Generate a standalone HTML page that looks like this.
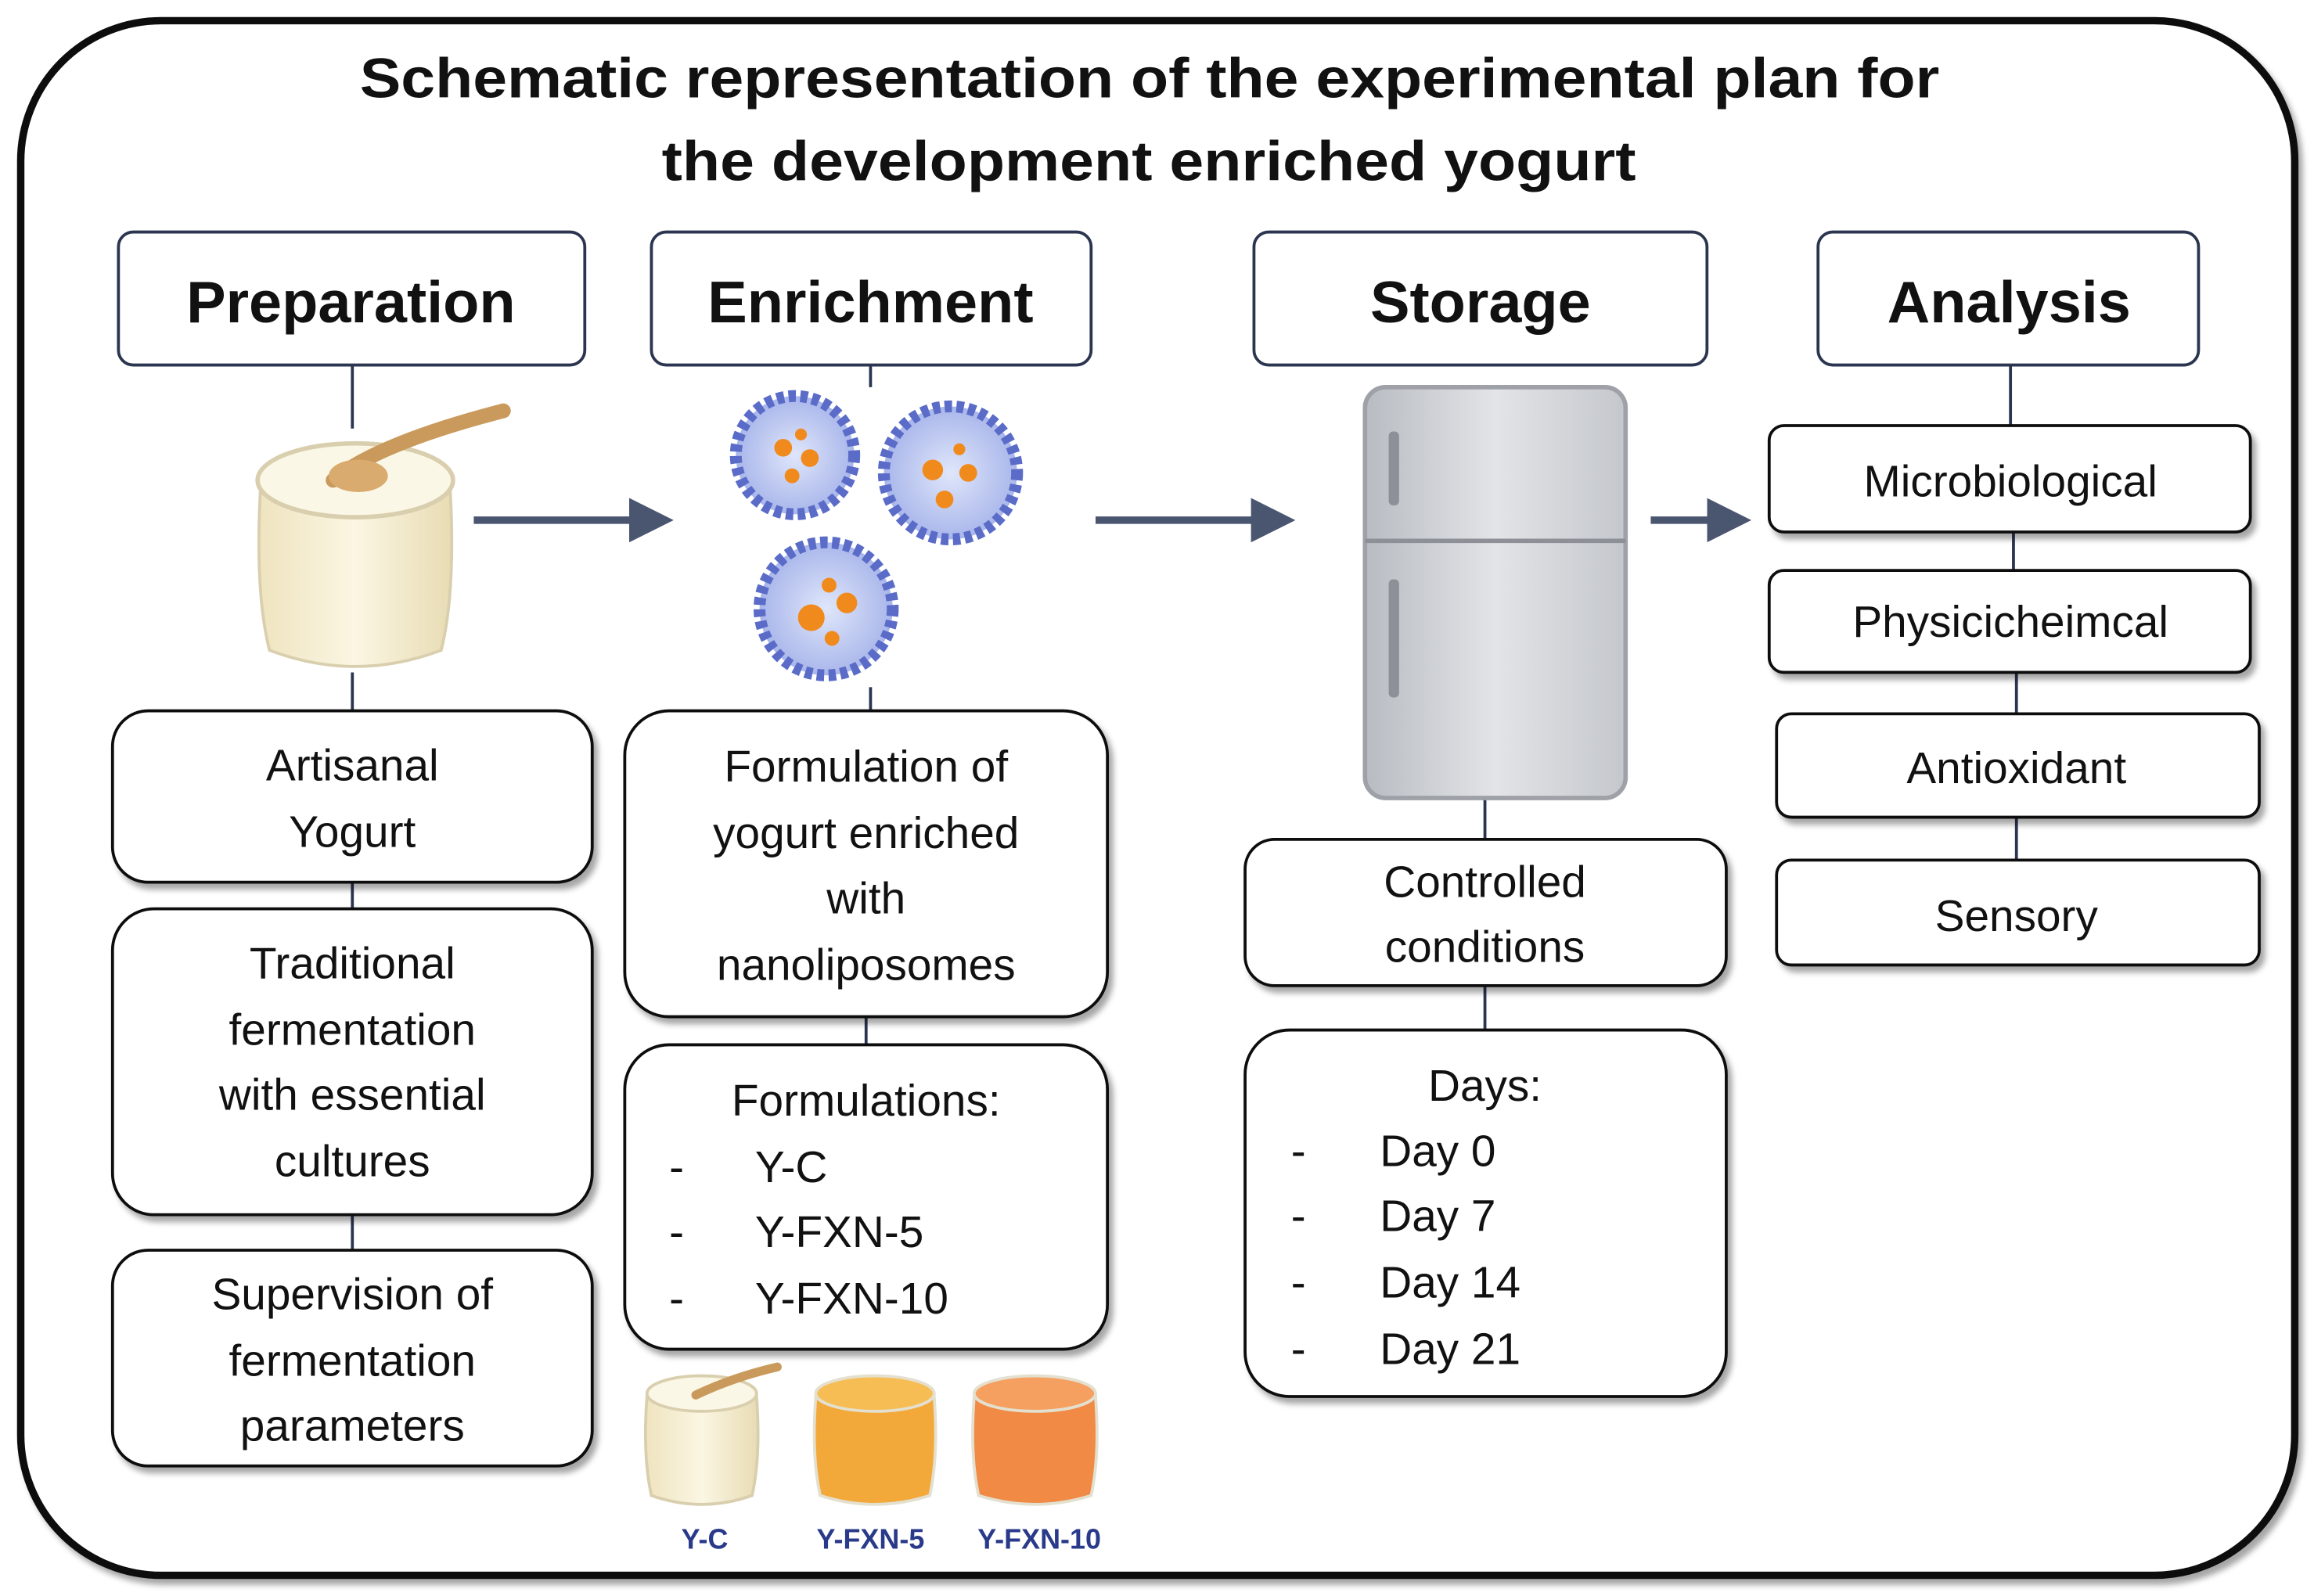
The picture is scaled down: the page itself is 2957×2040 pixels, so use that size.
<!DOCTYPE html>
<html><head><meta charset="utf-8">
<style>
html,body{margin:0;padding:0;background:#fff;}
svg{display:block;}
text{font-family:"Liberation Sans",sans-serif;}
</style></head>
<body>
<svg width="2957" height="2040" viewBox="0 0 1563 1080" preserveAspectRatio="none" xmlns="http://www.w3.org/2000/svg">
<defs>
<filter id="sh" x="-10%" y="-10%" width="130%" height="130%"><feDropShadow dx="3" dy="4" stdDeviation="2" flood-color="#000" flood-opacity="0.35"/></filter>
<marker id="ar" markerWidth="6" markerHeight="6" refX="3" refY="3" orient="auto" markerUnits="strokeWidth"><path d="M0,0 L6,3 L0,6 Z" fill="#4a5570"/></marker>
<radialGradient id="lip" cx="50%" cy="50%" r="50%"><stop offset="0" stop-color="#dfe6fb"/><stop offset="1" stop-color="#a9b6ea"/></radialGradient>
<linearGradient id="fr" x1="0" x2="1"><stop offset="0" stop-color="#b8bcc2"/><stop offset="0.5" stop-color="#e2e4e7"/><stop offset="1" stop-color="#c4c7cc"/></linearGradient>
<linearGradient id="jar" x1="0" x2="1"><stop offset="0" stop-color="#efe4bf"/><stop offset="0.5" stop-color="#fbf6e3"/><stop offset="1" stop-color="#e8dcb4"/></linearGradient>
</defs>

<rect x="14" y="14" width="1536" height="1052" rx="95" fill="#fff" stroke="#111" stroke-width="5" filter="url(#sh)"/>

<text x="243" y="66" font-size="38" font-weight="bold" fill="#111" textLength="1067" lengthAdjust="spacingAndGlyphs">Schematic representation of the experimental plan for</text>
<text x="447" y="122" font-size="38" font-weight="bold" fill="#111" textLength="658" lengthAdjust="spacingAndGlyphs">the development enriched yogurt</text>

<g stroke="#2b3550" stroke-width="2" fill="#fff">
<rect x="80" y="157" width="315" height="90" rx="10"/>
<rect x="440" y="157" width="297" height="90" rx="10"/>
<rect x="847" y="157" width="306" height="90" rx="10"/>
<rect x="1228" y="157" width="257" height="90" rx="10"/>
</g>
<g font-size="40" font-weight="bold" text-anchor="middle" fill="#111">
<text x="237" y="218">Preparation</text>
<text x="588" y="218">Enrichment</text>
<text x="1000" y="218">Storage</text>
<text x="1357" y="218">Analysis</text>
</g>

<g stroke="#2b3550" stroke-width="2">
<line x1="238" y1="247" x2="238" y2="290"/>
<line x1="238" y1="455" x2="238" y2="481"/>
<line x1="238" y1="597" x2="238" y2="615"/>
<line x1="238" y1="822" x2="238" y2="846"/>
<line x1="588" y1="247" x2="588" y2="262"/>
<line x1="588" y1="465" x2="588" y2="481"/>
<line x1="585" y1="688" x2="585" y2="707"/>
<line x1="1003" y1="540" x2="1003" y2="568"/>
<line x1="1003" y1="667" x2="1003" y2="697"/>
<line x1="1358" y1="247" x2="1358" y2="288"/>
<line x1="1360" y1="360" x2="1360" y2="386"/>
<line x1="1362" y1="455" x2="1362" y2="483"/>
<line x1="1362" y1="553" x2="1362" y2="582"/>
</g>

<g stroke="#4a5570" stroke-width="5" marker-end="url(#ar)">
<line x1="320" y1="352" x2="440" y2="352"/>
<line x1="740" y1="352" x2="860" y2="352"/>
<line x1="1115" y1="352" x2="1168" y2="352"/>
</g>

<g>
<path d="M176,330 Q172,400 182,440 Q240,462 298,440 Q308,400 304,330 Z" fill="url(#jar)" stroke="#d9cfae" stroke-width="2"/>
<ellipse cx="240" cy="325" rx="66" ry="25" fill="#fbf7e6" stroke="#d9cfae" stroke-width="3"/>
<path d="M225,325 Q255,300 340,278" stroke="#c99a5c" stroke-width="10" stroke-linecap="round" fill="none"/>
<ellipse cx="242" cy="322" rx="20" ry="11" fill="#d9ab6e"/>
</g>

<g>
<g transform="translate(537,308)">
<circle r="40" fill="url(#lip)" stroke="#5a6cc8" stroke-width="8" stroke-dasharray="5 3"/>
<circle cx="-8" cy="-5" r="6" fill="#f08a1c"/><circle cx="10" cy="2" r="6" fill="#f08a1c"/><circle cx="-2" cy="14" r="5" fill="#f08a1c"/><circle cx="4" cy="-14" r="4" fill="#f08a1c"/>
</g>
<g transform="translate(642,320)">
<circle r="45" fill="url(#lip)" stroke="#5a6cc8" stroke-width="8" stroke-dasharray="5 3"/>
<circle cx="-12" cy="-2" r="7" fill="#f08a1c"/><circle cx="12" cy="0" r="6" fill="#f08a1c"/><circle cx="-4" cy="18" r="6" fill="#f08a1c"/><circle cx="6" cy="-16" r="4" fill="#f08a1c"/>
</g>
<g transform="translate(558,412)">
<circle r="45" fill="url(#lip)" stroke="#5a6cc8" stroke-width="8" stroke-dasharray="5 3"/>
<circle cx="-10" cy="6" r="9" fill="#f08a1c"/><circle cx="14" cy="-4" r="7" fill="#f08a1c"/><circle cx="4" cy="20" r="5" fill="#f08a1c"/><circle cx="2" cy="-16" r="5" fill="#f08a1c"/>
</g>
</g>

<g>
<rect x="922" y="262" width="176" height="278" rx="14" fill="url(#fr)" stroke="#9ea2a8" stroke-width="3"/>
<line x1="922" y1="366" x2="1098" y2="366" stroke="#8d9197" stroke-width="3"/>
<rect x="938" y="292" width="7" height="50" rx="3" fill="#8d9197"/>
<rect x="938" y="392" width="7" height="80" rx="3" fill="#8d9197"/>
</g>

<g stroke="#111" stroke-width="2" fill="#fff" filter="url(#sh)">
<rect x="76" y="481" width="324" height="116" rx="24"/>
<rect x="76" y="615" width="324" height="207" rx="28"/>
<rect x="76" y="846" width="324" height="146" rx="24"/>
<rect x="422" y="481" width="326" height="207" rx="30"/>
<rect x="422" y="707" width="326" height="206" rx="30"/>
<rect x="841" y="568" width="325" height="99" rx="20"/>
<rect x="841" y="697" width="325" height="248" rx="30"/>
<rect x="1195" y="288" width="325" height="72" rx="10"/>
<rect x="1195" y="386" width="325" height="69" rx="10"/>
<rect x="1200" y="483" width="326" height="70" rx="10"/>
<rect x="1200" y="582" width="326" height="71" rx="10"/>
</g>

<g font-size="30" fill="#111" text-anchor="middle">
<text x="238" y="528">Artisanal</text>
<text x="238" y="573">Yogurt</text>
<text x="238" y="662">Traditional</text>
<text x="238" y="707">fermentation</text>
<text x="238" y="751">with essential</text>
<text x="238" y="796">cultures</text>
<text x="238" y="886">Supervision of</text>
<text x="238" y="931">fermentation</text>
<text x="238" y="975">parameters</text>
<text x="585" y="529">Formulation of</text>
<text x="585" y="574">yogurt enriched</text>
<text x="585" y="618">with</text>
<text x="585" y="663">nanoliposomes</text>
<text x="585" y="755">Formulations:</text>
<text x="1003" y="607">Controlled</text>
<text x="1003" y="651">conditions</text>
<text x="1003" y="745">Days:</text>
<text x="1358" y="336">Microbiological</text>
<text x="1358" y="431">Physicicheimcal</text>
<text x="1362" y="530">Antioxidant</text>
<text x="1362" y="630">Sensory</text>
</g>
<g font-size="30" fill="#111">
<text x="452" y="800">-</text><text x="510" y="800">Y-C</text>
<text x="452" y="844">-</text><text x="510" y="844">Y-FXN-5</text>
<text x="452" y="889">-</text><text x="510" y="889">Y-FXN-10</text>
<text x="872" y="789">-</text><text x="932" y="789">Day 0</text>
<text x="872" y="833">-</text><text x="932" y="833">Day 7</text>
<text x="872" y="878">-</text><text x="932" y="878">Day 14</text>
<text x="872" y="923">-</text><text x="932" y="923">Day 21</text>
</g>

<g>
<path d="M437,945 Q434,985 440,1012 Q474,1024 508,1012 Q514,985 511,945 Z" fill="url(#jar)" stroke="#d9cfae" stroke-width="2"/>
<ellipse cx="474" cy="943" rx="37" ry="12" fill="#fbf7e6" stroke="#d9cfae" stroke-width="2"/>
<path d="M470,944 Q495,932 525,925" stroke="#c99a5c" stroke-width="6" stroke-linecap="round" fill="none"/>
<path d="M551,945 Q548,985 554,1012 Q591,1024 628,1012 Q634,985 631,945 Z" fill="#f2a93a" stroke="#e4e0d0" stroke-width="2"/>
<ellipse cx="591" cy="943" rx="40" ry="12" fill="#f7bd55" stroke="#e4e0d0" stroke-width="2"/>
<path d="M658,945 Q655,985 661,1012 Q699,1024 737,1012 Q743,985 740,945 Z" fill="#f08a45" stroke="#e4e0d0" stroke-width="2"/>
<ellipse cx="699" cy="943" rx="41" ry="12" fill="#f5a060" stroke="#e4e0d0" stroke-width="2"/>
</g>
<g font-size="19" fill="#2a3a8a" text-anchor="middle" font-weight="bold">
<text x="476" y="1048">Y-C</text>
<text x="588" y="1048">Y-FXN-5</text>
<text x="702" y="1048">Y-FXN-10</text>
</g>
</svg>
</body></html>
